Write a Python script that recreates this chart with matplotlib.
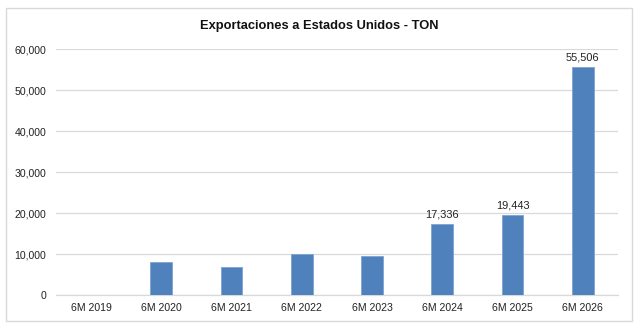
import numpy as np
import matplotlib.pyplot as plt
from matplotlib.patches import Rectangle

# Données
periodes = ["6M 2019", "6M 2020", "6M 2021", "6M 2022", "6M 2023", "6M 2024", "6M 2025", "6M 2026"]
toneladas = [0, 8100, 6900, 10050, 9600, 17336, 19443, 55506]
etiquetas = ["", "", "", "", "", "17,336", "19,443", "55,506"]

plt.rcParams['font.family'] = ['Liberation Sans', 'DejaVu Sans']

fig = plt.figure(figsize=(6.39, 3.29), dpi=100)
ax = fig.add_axes([0.0876, 0.1033, 0.8794, 0.7477])

# cadre extérieur gris clair
fig.patches.append(Rectangle((6 / 639, 1 - 321 / 329), 626 / 639, 313 / 329,
                             transform=fig.transFigure, fill=False,
                             edgecolor='#D9D9D9', linewidth=1))

x = np.arange(len(periodes))
bars = ax.bar(x, toneladas, width=0.31, color='#4F81BD', edgecolor='#7FA3D3', linewidth=0.6, zorder=3)

for b, lab in zip(bars, etiquetas):
    if lab:
        ax.annotate(lab, (b.get_x() + b.get_width() / 2, b.get_height()),
                    xytext=(0, 3.5), textcoords='offset points',
                    ha='center', va='bottom', fontsize=7.9, color='#222222')

ax.set_xlim(-0.5, len(periodes) - 0.5)
ax.set_ylim(0, 60000)
ax.set_yticks(np.arange(0, 60001, 10000))
ax.set_yticklabels([f"{v:,}" for v in range(0, 60001, 10000)])
ax.set_xticks(x)
ax.set_xticklabels(periodes)
ax.tick_params(axis='both', length=0, labelsize=7.6, colors='#222222')
ax.tick_params(axis='y', pad=7)
ax.tick_params(axis='x', pad=6)

ax.grid(axis='y', color='#D9D9D9', linewidth=0.9, zorder=0)
for s in ['top', 'right', 'left']:
    ax.spines[s].set_visible(False)
ax.spines['bottom'].set_color('#D9D9D9')
ax.spines['bottom'].set_linewidth(0.9)

fig.text(0.5, 1 - 26 / 329, "Exportaciones a Estados Unidos - TON", ha='center', va='center',
         fontsize=9.3, fontweight='bold', color='#111111')

fig.savefig("out.png", dpi=100)
